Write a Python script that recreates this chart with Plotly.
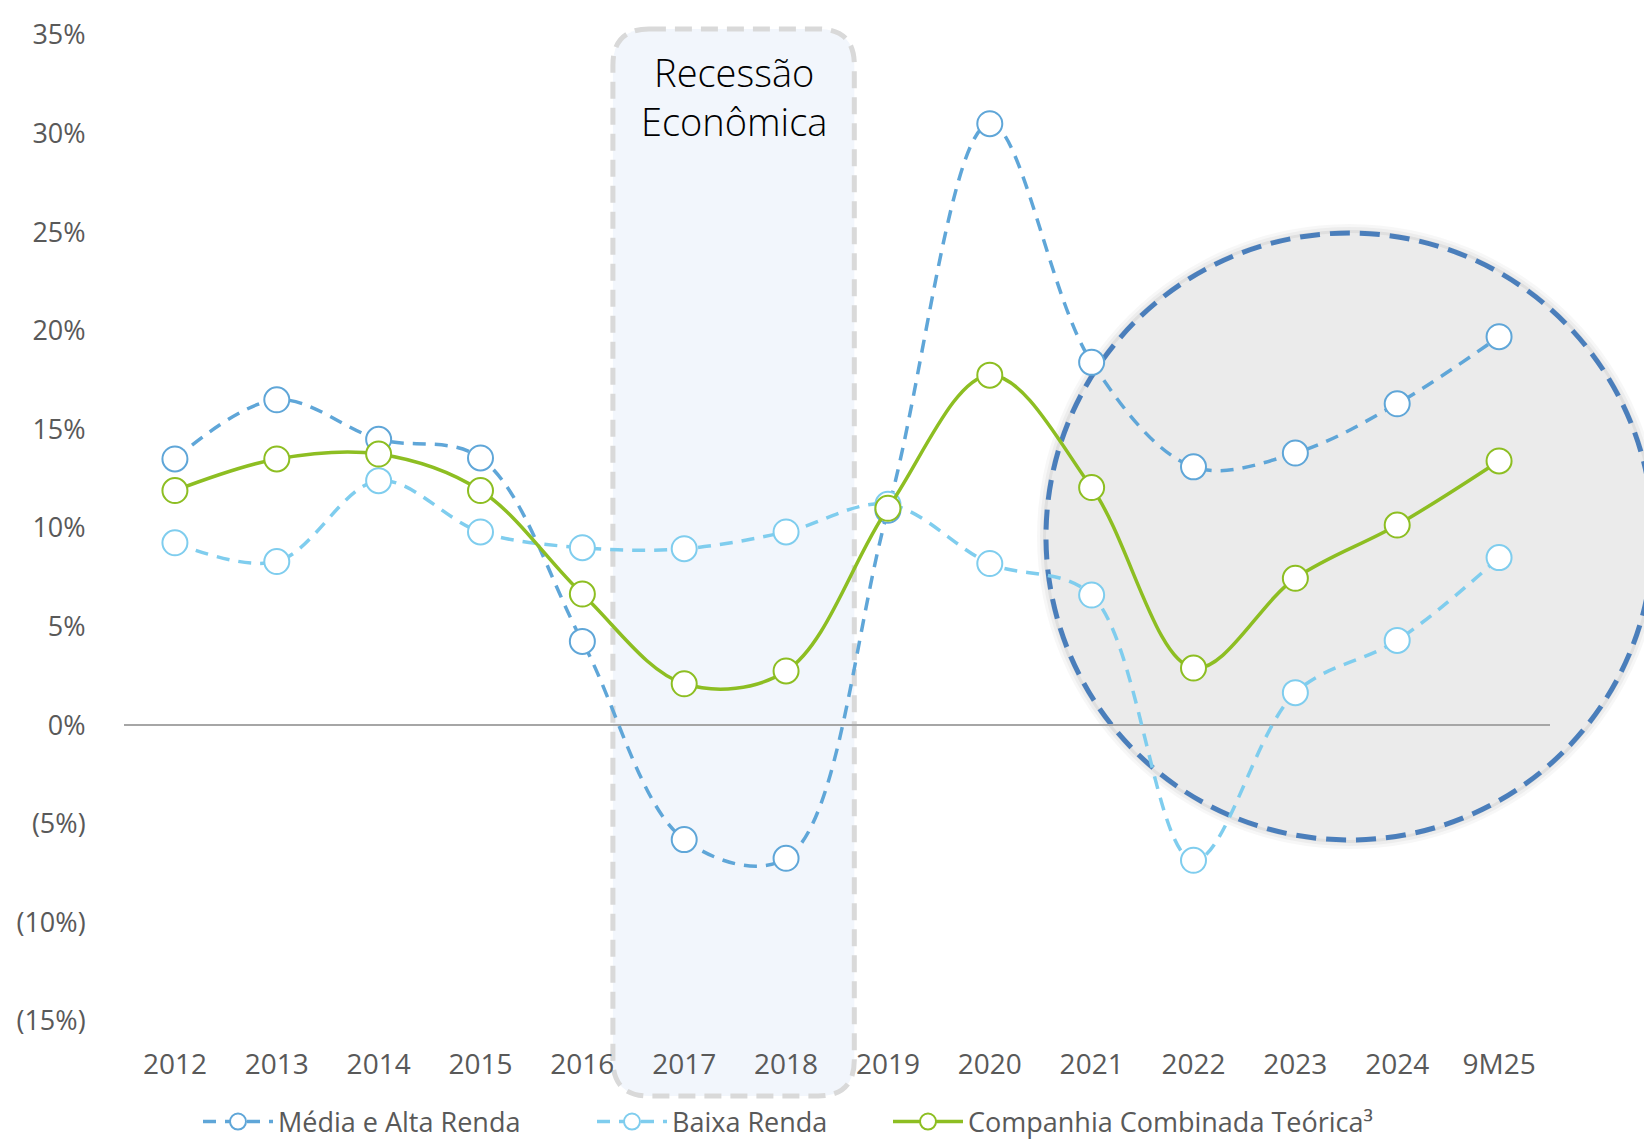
import plotly.graph_objects as go

# ---- data ----
categories = ["2012", "2013", "2014", "2015", "2016", "2017", "2018", "2019",
              "2020", "2021", "2022", "2023", "2024", "9M25"]
media_alta = [13.5, 16.5, 14.5, 13.55, 4.25, -5.8, -6.75, 10.9, 30.5, 18.4, 13.1, 13.8, 16.3, 19.7]
baixa = [9.25, 8.3, 12.4, 9.8, 9.0, 8.95, 9.8, 11.2, 8.2, 6.6, -6.85, 1.65, 4.3, 8.5]
combinada = [11.9, 13.5, 13.75, 11.9, 6.65, 2.1, 2.75, 11.0, 17.75, 12.05, 2.9, 7.45, 10.15, 13.4]
tick_vals = [-15, -10, -5, 0, 5, 10, 15, 20, 25, 30, 35]
tick_text = ["(15%)", "(10%)", "(5%)", "0%", "5%", "10%", "15%", "20%", "25%", "30%", "35%"]
series_names = ["Média e Alta Renda", "Baixa Renda", "Companhia Combinada Teórica³"]
annotation_text = "Recessão<br>Econômica"

# ---- layout geometry ----
W, H = 1644, 1142
ML, MR, MT, MB = 124, 94, 35, 121
PW, PH = W - ML - MR, H - MT - MB
N = len(categories)

def px_x(pos):  # category position -> paper x
    return (pos + 0.5) / N

def ppx(px):  # pixel x -> paper
    return (px - ML) / PW

def ppy(py):  # pixel y (from top) -> paper
    return (H - MB - py) / PH

C_MA = "#5FA6D8"
C_BR = "#7FCDEE"
C_CC = "#8DBE22"
FONT = "Open Sans"
GREY = "#595959"
FS = 27

fig = go.Figure()

fig.add_trace(go.Scatter(
    x=categories, y=media_alta, name=series_names[0], mode="lines+markers", legend="legend",
    line=dict(color=C_MA, width=3.5, dash="13px,9px", shape="spline", smoothing=1.0),
    marker=dict(symbol="circle", size=25, color="white", line=dict(color=C_MA, width=2)),
))
fig.add_trace(go.Scatter(
    x=categories, y=baixa, name=series_names[1], mode="lines+markers", legend="legend2",
    line=dict(color=C_BR, width=3.5, dash="13px,9px", shape="spline", smoothing=1.0),
    marker=dict(symbol="circle", size=25, color="white", line=dict(color=C_BR, width=2)),
))
fig.add_trace(go.Scatter(
    x=categories, y=combinada, name=series_names[2], mode="lines+markers", legend="legend3",
    line=dict(color=C_CC, width=3.5, shape="spline", smoothing=1.0),
    marker=dict(symbol="circle", size=25, color="white", line=dict(color=C_CC, width=2)),
))

shapes = []

# recession box (rounded rectangle), in paper coordinates
bx0, bx1 = px_x(4.30), px_x(6.67)
by0, by1 = ppy(1096), ppy(29)
r = 36
rx, ry = r / PW, r / PH
path = (f"M {bx0+rx},{by1} L {bx1-rx},{by1} Q {bx1},{by1} {bx1},{by1-ry} "
        f"L {bx1},{by0+ry} Q {bx1},{by0} {bx1-rx},{by0} "
        f"L {bx0+rx},{by0} Q {bx0},{by0} {bx0},{by0+ry} "
        f"L {bx0},{by1-ry} Q {bx0},{by1} {bx0+rx},{by1} Z")
shapes.append(dict(type="path", xref="paper", yref="paper", path=path,
                   fillcolor="#F2F6FC", line=dict(color="#D9D9D9", width=5, dash="17px,9px"),
                   layer="below"))

# highlight circle with soft shadow
cx0, cx1 = ppx(1046), ppx(1653)
cy0, cy1 = ppy(840), ppy(233)
for k, a in [(9, 0.03), (6, 0.04), (3, 0.06)]:
    shapes.append(dict(type="circle", xref="paper", yref="paper",
                       x0=cx0 - k / PW, x1=cx1 + k / PW, y0=cy0 - k / PH, y1=cy1 + k / PH,
                       fillcolor=f"rgba(0,0,0,{a})", line=dict(width=0), layer="below"))
shapes.append(dict(type="circle", xref="paper", yref="paper",
                   x0=cx0, x1=cx1, y0=cy0, y1=cy1,
                   fillcolor="#EBEBEB", line=dict(color="#4A7EBB", width=5, dash="20px,10px"),
                   layer="below"))

leg_common = dict(orientation="h", yanchor="middle", y=ppy(1122), xanchor="left",
                  font=dict(family=FONT, size=FS, color=GREY), itemwidth=70,
                  bgcolor="rgba(0,0,0,0)", borderwidth=0)

fig.update_layout(
    width=W, height=H,
    margin=dict(l=ML, r=MR, t=MT, b=MB, autoexpand=False),
    paper_bgcolor="white", plot_bgcolor="rgba(0,0,0,0)",
    shapes=shapes,
    font=dict(family=FONT, size=FS, color=GREY),
    showlegend=True,
    legend=dict(leg_common, x=ppx(198)),
    legend2=dict(leg_common, x=ppx(592)),
    legend3=dict(leg_common, x=ppx(888)),
    annotations=[
        dict(text=annotation_text, xref="paper", yref="paper",
             x=(bx0 + bx1) / 2, y=ppy(96), showarrow=False,
             font=dict(family="Open Sans", size=38, color="black", weight=300),
             xanchor="center", yanchor="middle"),
    ],
)
fig.update_xaxes(type="category", range=[-0.5, N - 0.5], showgrid=False, zeroline=False,
                 showline=False, ticks="outside", ticklen=18, tickcolor="rgba(0,0,0,0)",
                 tickfont=dict(family=FONT, size=28, color=GREY))
fig.update_yaxes(range=[-15, 35], tickvals=tick_vals, ticktext=tick_text, showgrid=False,
                 zeroline=True, zerolinecolor="#A6A6A6", zerolinewidth=2, showline=False,
                 ticks="outside", ticklen=32, tickcolor="rgba(0,0,0,0)",
                 tickfont=dict(family=FONT, size=FS, color=GREY))

fig.write_html("out.html", config={"displayModeBar": False},
               post_script="document.body.style.margin='0';document.body.style.overflow='hidden';")
